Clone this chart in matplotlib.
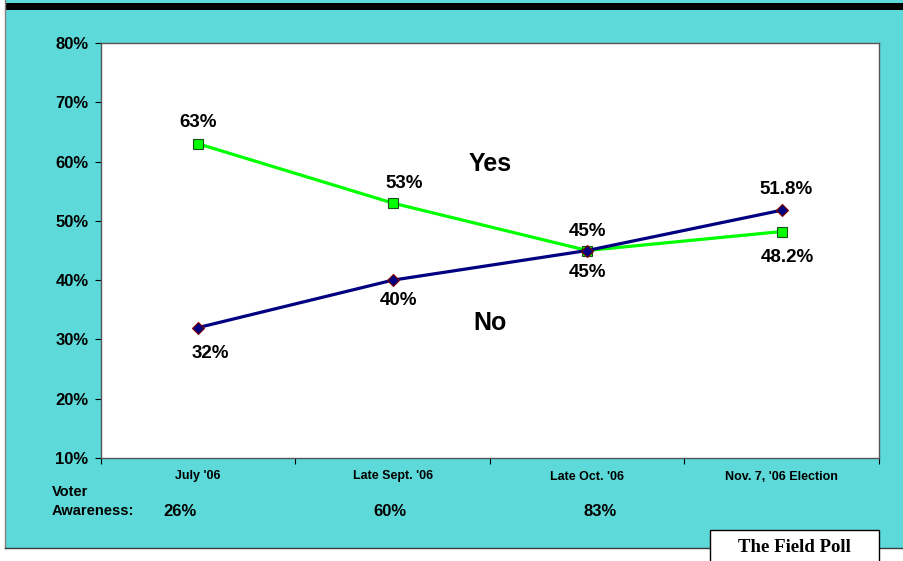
import matplotlib
matplotlib.use("Agg")
import matplotlib.pyplot as plt
from matplotlib.patches import Rectangle

categories = ["July '06", "Late Sept. '06", "Late Oct. '06", "Nov. 7, '06 Election"]
yes_values = [63, 53, 45, 48.2]
no_values = [32, 40, 45, 51.8]
yes_labels = ["63%", "53%", "45%", "48.2%"]
no_labels = ["32%", "40%", "45%", "51.8%"]
awareness = ["26%", "60%", "83%"]
y_ticks = [10, 20, 30, 40, 50, 60, 70, 80]

plt.rcParams['font.family'] = ['Liberation Sans', 'DejaVu Sans']

W, H = 904, 561
fig = plt.figure(figsize=(W / 100, H / 100), dpi=100)
fig.patch.set_facecolor('white')

cyan = '#5DD9D9'
bg = fig.add_axes([0, 0, 1, 1], zorder=0)
bg.set_xlim(0, W)
bg.set_ylim(H, 0)
bg.axis('off')
bg.add_patch(Rectangle((5, 0), W - 5, 548, facecolor=cyan, edgecolor='none'))
bg.plot([5, 5], [0, 548], color='#808080', lw=1)
bg.plot([5, W], [548, 548], color='#3a3a3a', lw=1)
bg.add_patch(Rectangle((5, 3), W - 5, 7, facecolor='black', edgecolor='none'))

ax = fig.add_axes([101 / W, 1 - 458 / H, 778 / W, 415 / H], zorder=2)
ax.set_facecolor('white')
x = list(range(len(categories)))

ax.plot(x, yes_values, color='#00FF00', lw=2.3, marker='s', markersize=7,
        markerfacecolor='#00FF00', markeredgecolor='#1a4d1a', markeredgewidth=0.8, zorder=3)
ax.plot(x, no_values, color='#000080', lw=2.3, marker='D', markersize=6.5,
        markerfacecolor='#000080', markeredgecolor='#800000', markeredgewidth=0.8, zorder=4)

ax.set_xlim(-0.5, 3.5)
ax.set_ylim(10, 80)
ax.set_yticks(y_ticks)
ax.set_yticklabels([f"{v}%" for v in y_ticks], fontsize=12, fontweight='bold')
ax.set_xticks([-0.5, 0.5, 1.5, 2.5, 3.5])
ax.set_xticklabels([])
ax.set_xticks(x, minor=True)
ax.set_xticklabels(categories, minor=True, fontsize=9, fontweight='bold')
ax.tick_params(axis='x', which='minor', length=0, pad=9)
ax.tick_params(axis='x', which='major', length=4, direction='out')
ax.tick_params(axis='y', length=4, direction='out', pad=5)
for s in ax.spines.values():
    s.set_color('#555555')
    s.set_linewidth(1.0)

lab_kw = dict(fontsize=13.5, fontweight='bold', ha='center', va='center', textcoords='offset points')
yes_off = [(0, 15), (8, 14), (0, 14), (4, -19)]
no_off = [(9, -19), (4, -15), (0, -16), (3, 15)]
for xi, v, t, o in zip(x, yes_values, yes_labels, yes_off):
    ax.annotate(t, (xi, v), xytext=o, **lab_kw)
for xi, v, t, o in zip(x, no_values, no_labels, no_off):
    ax.annotate(t, (xi, v), xytext=o, **lab_kw)

ax.text(1.5, 59.6, "Yes", fontsize=18, fontweight='bold', ha='center', va='center')
ax.text(1.5, 32.7, "No", fontsize=18, fontweight='bold', ha='center', va='center')

tk = dict(fontweight='bold', va='center')
bg.text(52, 492, "Voter", ha='left', fontsize=10.5, **tk)
bg.text(52, 511, "Awareness:", ha='left', fontsize=10.5, **tk)
for px, t in zip([180, 390, 600], awareness):
    bg.text(px, 511, t, ha='center', fontsize=12, **tk)

# Field Poll box
bg.add_patch(Rectangle((710, 530), 169, 40, facecolor='white', edgecolor='black', lw=1, zorder=5))
bg.text(794, 548, "The Field Poll", fontsize=13.5, fontweight='bold',
        family=['Liberation Serif', 'DejaVu Serif'], ha='center', va='center', zorder=6)

fig.savefig('out.png', dpi=100, facecolor=fig.get_facecolor())
